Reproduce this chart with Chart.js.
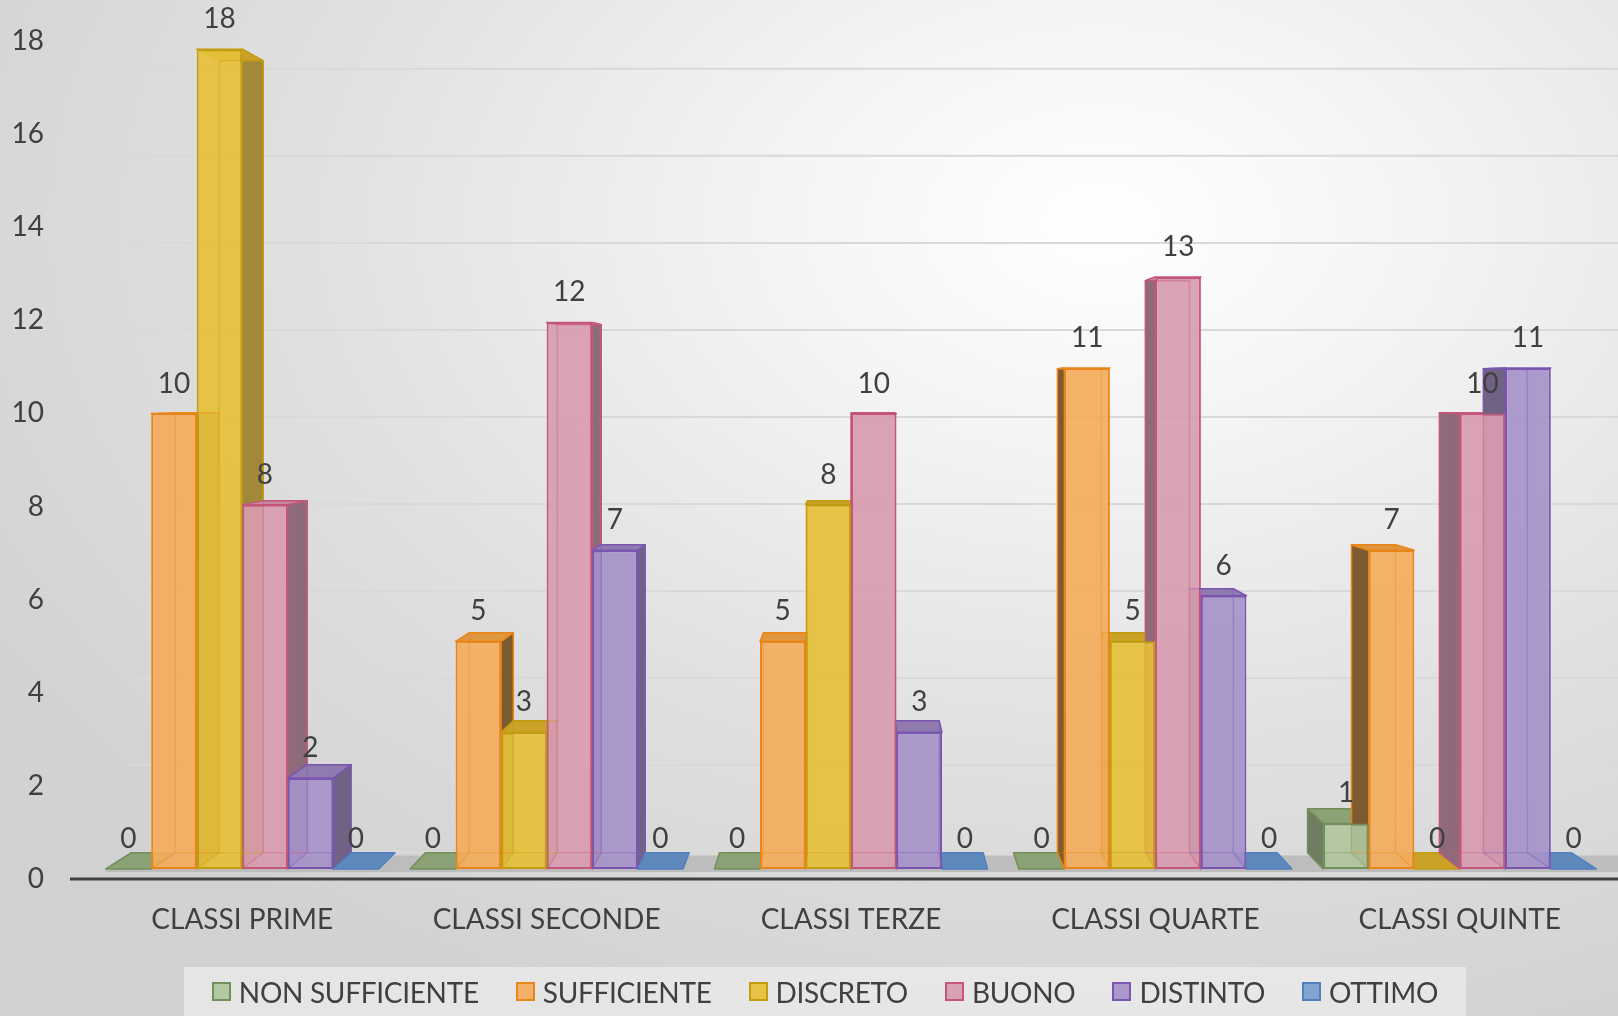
<!DOCTYPE html>
<html lang="it">
<head>
<meta charset="UTF-8">
<title>Valutazioni per classe</title>
<script src="https://cdn.jsdelivr.net/npm/chart.js@4.4.1/dist/chart.umd.min.js"></script>
<style>
  html, body { margin: 0; padding: 0; }
  body {
    width: 1618px; height: 1016px; overflow: hidden; position: relative;
    background: radial-gradient(ellipse 80% 85% at 68% 22%, #ffffff 0%, #f4f4f4 25%, #e0e0e0 62%, #d2d2d2 100%);
    font-family: Lato, 'Open Sans', sans-serif;
  }
  #wrap { position: absolute; left: 0; top: 0; width: 1618px; height: 1016px; }
  .legend {
    position: absolute; left: 184px; top: 967px; width: 1282px; height: 49px;
    background: rgba(242, 242, 242, 0.6);
    display: flex; justify-content: center; align-items: center; gap: 37px;
  }
  .legend .item { display: flex; align-items: center; font-size: 28px; color: #404040; letter-spacing: -0.3px; }
  .legend i { display: inline-block; width: 15px; height: 15px; border: 2px solid; margin-right: 8px; }
</style>
</head>
<body>
<div id="wrap"><canvas id="chart"></canvas></div>
<div class="legend" id="legend"></div>

<script>
// dati
const categories = ['CLASSI PRIME', 'CLASSI SECONDE', 'CLASSI TERZE', 'CLASSI QUARTE', 'CLASSI QUINTE'];
const seriesNames = ['NON SUFFICIENTE', 'SUFFICIENTE', 'DISCRETO', 'BUONO', 'DISTINTO', 'OTTIMO'];
const nonSufficiente = [0, 0, 0, 0, 1];
const sufficiente = [10, 5, 5, 11, 7];
const discreto = [18, 3, 8, 5, 0];
const buono = [8, 12, 10, 13, 10];
const distinto = [2, 7, 3, 6, 11];
const ottimo = [0, 0, 0, 0, 0];
const yTicks = [0, 2, 4, 6, 8, 10, 12, 14, 16, 18];

const seriesValues = [nonSufficiente, sufficiente, discreto, buono, distinto, ottimo];

// colori
const fronts = ['rgba(176,198,158,0.92)', 'rgba(244,172,92,0.92)', 'rgba(230,192,58,0.92)',
                'rgba(216,156,176,0.92)', 'rgba(166,146,202,0.92)', 'rgba(120,160,205,0.92)'];
const borders = ['#72905a', '#e8861a', '#c49c10', '#c4567c', '#7a56b0', '#4f80c0'];
const sides = ['#6f7d62', '#7d5a30', '#a08a3a', '#8f6a7a', '#6f6285', '#4d6a8e'];
const tops = ['#8aa275', '#e0963e', '#c9a227', '#c58aa0', '#8f7bb0', '#5f88bb'];
const textColor = '#404040';

Chart.defaults.font.family = 'Lato, "Open Sans", sans-serif';

const DEPTH = 0.034;
function toBack(px, py, v) {
  return [px + DEPTH * (v[0] - px), py + DEPTH * (v[1] - py)];
}
function poly(ctx, pts) {
  ctx.beginPath();
  ctx.moveTo(pts[0][0], pts[0][1]);
  for (let k = 1; k < pts.length; k++) ctx.lineTo(pts[k][0], pts[k][1]);
  ctx.closePath();
}
function vanish(chart) {
  const a = chart.chartArea;
  return [a.left + (a.right - a.left) * 0.506, chart.scales.y.getPixelForValue(10.5)];
}
function barBox(el) {
  const p = el.getProps(['x', 'y', 'base', 'width'], true);
  return { x: p.x, L: p.x - p.width / 2, R: p.x + p.width / 2, T: Math.min(p.y, p.base), B: p.base };
}

// griglia, pavimento, linea dell'asse e facce laterali delle barre
const depthPlugin = {
  id: 'depth',
  beforeDatasetsDraw(chart) {
    const { ctx, chartArea: a, scales } = chart;
    const y0 = scales.y.getPixelForValue(0);
    const v = vanish(chart);
    ctx.save();

    const fl = [a.left + 14, y0 + 3];
    const bl = toBack(fl[0], fl[1], v);

    ctx.strokeStyle = '#d9d9d9';
    ctx.lineWidth = 2;
    yTicks.forEach(t => {
      const gy = scales.yg.getPixelForValue(t);
      ctx.beginPath();
      ctx.moveTo(bl[0], gy);
      ctx.lineTo(chart.width, gy);
      ctx.stroke();
    });

    poly(ctx, [fl, [chart.width, fl[1]], [chart.width, bl[1]], bl]);
    ctx.fillStyle = '#bdbdbd';
    ctx.fill();

    ctx.strokeStyle = '#404040';
    ctx.lineWidth = 3;
    ctx.beginPath();
    ctx.moveTo(a.left - 20, a.bottom);
    ctx.lineTo(chart.width, a.bottom);
    ctx.stroke();

    ctx.lineWidth = 1.5;
    ctx.lineJoin = 'round';
    chart.data.datasets.forEach((ds, i) => {
      chart.getDatasetMeta(i).data.forEach(el => {
        const { x, L, R, T, B } = barBox(el);
        const bLT = toBack(L, T, v), bRT = toBack(R, T, v);
        const bLB = toBack(L, B, v), bRB = toBack(R, B, v);
        ctx.strokeStyle = borders[i];
        if (B - T > 0.5) {
          if (x < v[0]) poly(ctx, [[R, T], [R, B], bRB, bRT]);
          else poly(ctx, [[L, T], [L, B], bLB, bLT]);
          ctx.fillStyle = sides[i];
          ctx.fill();
          ctx.stroke();
        }
        poly(ctx, [[L, T], [R, T], bRT, bLT]);
        ctx.fillStyle = tops[i];
        ctx.fill();
        ctx.stroke();
      });
    });
    ctx.restore();
  },
  afterDatasetsDraw(chart) {
    const { ctx } = chart;
    const v = vanish(chart);
    ctx.save();

    // spigoli posteriori visti in trasparenza
    ctx.globalAlpha = 0.35;
    ctx.lineWidth = 1.5;
    chart.data.datasets.forEach((ds, i) => {
      chart.getDatasetMeta(i).data.forEach(el => {
        const { x, L, R, T, B } = barBox(el);
        if (B - T <= 0.5) return;
        const bLT = toBack(L, T, v), bRT = toBack(R, T, v);
        const bLB = toBack(L, B, v), bRB = toBack(R, B, v);
        ctx.strokeStyle = borders[i];
        ctx.beginPath();
        if (x < v[0]) {
          ctx.moveTo(bLT[0], bLT[1]); ctx.lineTo(bLB[0], bLB[1]); ctx.lineTo(bRB[0], bRB[1]);
          ctx.moveTo(L, B); ctx.lineTo(bLB[0], bLB[1]);
        } else {
          ctx.moveTo(bRT[0], bRT[1]); ctx.lineTo(bRB[0], bRB[1]); ctx.lineTo(bLB[0], bLB[1]);
          ctx.moveTo(R, B); ctx.lineTo(bRB[0], bRB[1]);
        }
        ctx.moveTo(bLT[0], bLT[1]); ctx.lineTo(bRT[0], bRT[1]);
        ctx.stroke();
      });
    });
    ctx.globalAlpha = 1;

    ctx.font = '28px Lato, "Open Sans", sans-serif';
    ctx.fillStyle = textColor;
    ctx.textAlign = 'center';
    ctx.textBaseline = 'middle';
    chart.data.datasets.forEach((ds, i) => {
      chart.getDatasetMeta(i).data.forEach((el, j) => {
        const { x, T } = barBox(el);
        ctx.fillText(String(ds.data[j]), x, T - 30);
      });
    });
    ctx.restore();
  }
};

const fixedTicks = scale => { scale.ticks = yTicks.map(t => ({ value: t })); };

new Chart(document.getElementById('chart'), {
  type: 'bar',
  data: {
    labels: categories,
    datasets: seriesNames.map((name, i) => ({
      label: name,
      data: seriesValues[i],
      backgroundColor: fronts[i],
      borderColor: borders[i],
      borderWidth: 2,
      borderSkipped: false,
      categoryPercentage: 0.897,
      barPercentage: 1
    }))
  },
  options: {
    responsive: true,
    maintainAspectRatio: false,
    animation: false,
    layout: { padding: { top: 41, right: 6, left: 0, bottom: 0 } },
    plugins: { legend: { display: false }, tooltip: { enabled: false } },
    scales: {
      x: {
        grid: { display: false },
        border: { display: false },
        ticks: { color: textColor, font: { size: 28 }, padding: 16 },
        afterFit: s => { s.height = 137; }
      },
      y: {
        display: false,
        min: -0.22,
        max: 18.18
      },
      yl: {
        position: 'left',
        weight: 2,
        min: 0,
        max: 18,
        grid: { display: false, drawTicks: false },
        border: { display: false },
        ticks: { color: textColor, font: { size: 28 }, padding: 6 },
        afterBuildTicks: fixedTicks,
        afterFit: s => { s.width = 50; }
      },
      yg: {
        position: 'left',
        weight: 1,
        min: -0.62,
        max: 18.64,
        grid: { display: false, drawTicks: false },
        border: { display: false },
        ticks: { display: false },
        afterBuildTicks: fixedTicks,
        afterFit: s => { s.width = 40; }
      }
    }
  },
  plugins: [depthPlugin]
});

// legenda
const legend = document.getElementById('legend');
seriesNames.forEach((name, i) => {
  const item = document.createElement('span');
  item.className = 'item';
  const box = document.createElement('i');
  box.style.background = fronts[i];
  box.style.borderColor = borders[i];
  item.appendChild(box);
  item.appendChild(document.createTextNode(name));
  legend.appendChild(item);
});
</script>
</body>
</html>
